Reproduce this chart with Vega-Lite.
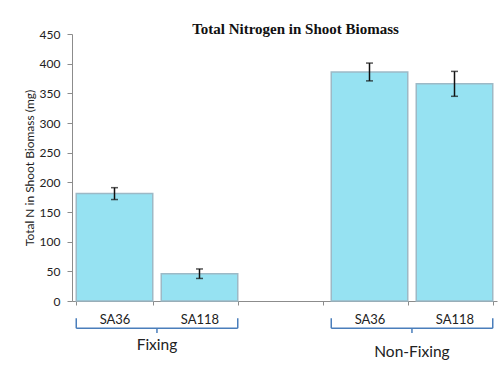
{
  "$schema": "https://vega.github.io/schema/vega-lite/v6.json",
  "width": 425,
  "height": 267,
  "autosize": {"type": "none"},
  "padding": {"left": 72, "top": 34, "right": 7, "bottom": 72},
  "background": "white",
  "config": {
    "view": {"stroke": null},
    "font": "Lato",
    "axis": {
      "grid": false,
      "domainColor": "#8c8c8c",
      "tickColor": "#8c8c8c",
      "labelColor": "#222222",
      "labelFontSize": 13,
      "titleColor": "#222222",
      "titleFontSize": 12,
      "titleFontWeight": "normal"
    },
    "axisY": {"tickCount": 10, "labelOverlap": false, "labelFontSize": 12}
  },
  "title": {
    "text": "Total Nitrogen in Shoot Biomass",
    "font": "Liberation Serif",
    "fontSize": 15,
    "fontWeight": "bold",
    "color": "#111111",
    "anchor": "middle",
    "frame": "group",
    "baseline": "alphabetic",
    "offset": -21,
    "dx": 11
  },
  "datasets": {
    "bars": [
      {"key": "F-SA36", "group": "Fixing", "cultivar": "SA36", "n": 181, "se": 10},
      {"key": "F-SA118", "group": "Fixing", "cultivar": "SA118", "n": 46, "se": 8},
      {"key": "N-SA36", "group": "Non-Fixing", "cultivar": "SA36", "n": 386, "se": 15},
      {"key": "N-SA118", "group": "Non-Fixing", "cultivar": "SA118", "n": 366, "se": 21}
    ],
    "groups": [
      {"group": "Fixing", "first": "F-SA36", "last": "F-SA118"},
      {"group": "Non-Fixing", "first": "N-SA36", "last": "N-SA118"}
    ]
  },
  "layer": [
    {
      "data": {"name": "bars"},
      "mark": {"type": "bar", "fill": "#96E2F2", "stroke": "#9DB9C6", "strokeWidth": 1.5},
      "encoding": {
        "x": {
          "field": "key",
          "type": "nominal",
          "title": null,
          "scale": {
            "domain": ["F-SA36", "F-SA118", "gap", "N-SA36", "N-SA118"],
            "paddingInner": 0.1,
            "paddingOuter": 0.05
          },
          "axis": {
            "labelAngle": 0,
            "tickBand": "extent",
            "tickSize": 4,
            "labelPadding": 8,
            "labelExpr": "datum.value == 'F-SA36' || datum.value == 'N-SA36' ? 'SA36' : (datum.value == 'F-SA118' || datum.value == 'N-SA118' ? 'SA118' : '')"
          }
        },
        "y": {
          "field": "n",
          "type": "quantitative",
          "title": "Total N in Shoot Biomass (mg)",
          "scale": {"domain": [0, 450], "nice": false},
          "axis": {
            "values": [0, 50, 100, 150, 200, 250, 300, 350, 400, 450],
            "tickSize": 5,
            "labelPadding": 7,
            "titlePadding": 3
          }
        }
      }
    },
    {
      "data": {"name": "bars"},
      "mark": {"type": "errorbar", "ticks": {"size": 7}, "thickness": 1.5, "color": "#111111"},
      "encoding": {
        "x": {
          "field": "key",
          "type": "nominal",
          "title": null,
          "scale": {"domain": ["F-SA36", "F-SA118", "gap", "N-SA36", "N-SA118"]}
        },
        "y": {
          "field": "n",
          "type": "quantitative",
          "title": "Total N in Shoot Biomass (mg)",
          "scale": {"domain": [0, 450], "nice": false}
        },
        "yError": {"field": "se"}
      }
    },
    {
      "data": {"name": "groups"},
      "mark": {"type": "rule", "color": "#4A7EBB", "strokeWidth": 1.5},
      "encoding": {
        "x": {"field": "first", "type": "nominal", "title": null, "bandPosition": 0,
              "scale": {"domain": ["F-SA36", "F-SA118", "gap", "N-SA36", "N-SA118"]}},
        "y": {"datum": -29},
        "y2": {"datum": -46}
      }
    },
    {
      "data": {"name": "groups"},
      "mark": {"type": "rule", "color": "#4A7EBB", "strokeWidth": 1.5},
      "encoding": {
        "x": {"field": "last", "type": "nominal", "title": null, "bandPosition": 1,
              "scale": {"domain": ["F-SA36", "F-SA118", "gap", "N-SA36", "N-SA118"]}},
        "y": {"datum": -29},
        "y2": {"datum": -46}
      }
    },
    {
      "data": {"name": "groups"},
      "mark": {"type": "rule", "color": "#4A7EBB", "strokeWidth": 1.5},
      "encoding": {
        "x": {"field": "first", "type": "nominal", "title": null, "bandPosition": 0,
              "scale": {"domain": ["F-SA36", "F-SA118", "gap", "N-SA36", "N-SA118"]}},
        "x2": {"field": "last", "bandPosition": 1},
        "y": {"datum": -46}
      }
    },
    {
      "data": {"name": "groups"},
      "mark": {"type": "rule", "color": "#4A7EBB", "strokeWidth": 1.5},
      "encoding": {
        "x": {"field": "first", "type": "nominal", "title": null, "bandPosition": 1.055,
              "scale": {"domain": ["F-SA36", "F-SA118", "gap", "N-SA36", "N-SA118"]}},
        "y": {"datum": -46},
        "y2": {"datum": -54}
      }
    },
    {
      "data": {"name": "groups"},
      "transform": [{"filter": "datum.group == 'Fixing'"}],
      "mark": {"type": "text", "fontSize": 15.5, "color": "#222222", "baseline": "middle"},
      "encoding": {
        "x": {"field": "first", "type": "nominal", "title": null, "bandPosition": 1.055,
              "scale": {"domain": ["F-SA36", "F-SA118", "gap", "N-SA36", "N-SA118"]}},
        "y": {"datum": -74},
        "text": {"field": "group"}
      }
    },
    {
      "data": {"name": "groups"},
      "transform": [{"filter": "datum.group == 'Non-Fixing'"}],
      "mark": {"type": "text", "fontSize": 15.5, "color": "#222222", "baseline": "middle"},
      "encoding": {
        "x": {"field": "first", "type": "nominal", "title": null, "bandPosition": 1.055,
              "scale": {"domain": ["F-SA36", "F-SA118", "gap", "N-SA36", "N-SA118"]}},
        "y": {"datum": -86},
        "text": {"field": "group"}
      }
    }
  ]
}
